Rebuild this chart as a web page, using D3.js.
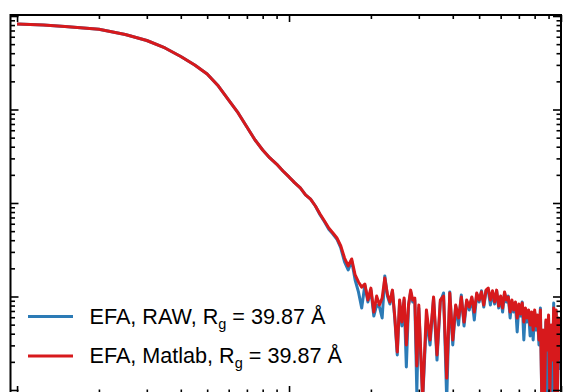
<!DOCTYPE html>
<html>
<head>
<meta charset="utf-8">
<script src="https://cdn.jsdelivr.net/npm/d3@7"></script>
<style>
  body { margin: 0; background: #fff; }
  svg { display: block; }
</style>
</head>
<body>
<div id="chart"></div>
<script>
// scattering vector q (1/Å)
var qValues = [
  0.010, 0.0125, 0.015, 0.020, 0.025, 0.030, 0.035, 0.040, 0.045, 0.050,
  0.055, 0.060, 0.065, 0.070, 0.075, 0.080, 0.085, 0.090, 0.095, 0.100,
  0.105, 0.110, 0.115, 0.120, 0.125, 0.130, 0.135, 0.140, 0.145, 0.150,
  0.155, 0.160, 0.165, 0.170, 0.175, 0.180, 0.185, 0.190, 0.195, 0.200,
  0.205, 0.210, 0.215, 0.220, 0.225, 0.230, 0.235, 0.240, 0.245, 0.250,
  0.255, 0.260, 0.265, 0.270, 0.275, 0.280, 0.285, 0.290, 0.295, 0.300,
  0.31, 0.32, 0.33, 0.34, 0.35, 0.36, 0.37, 0.38, 0.39, 0.40,
  0.41, 0.42, 0.43, 0.44, 0.45, 0.46, 0.47, 0.48, 0.49, 0.50,
  0.51, 0.52, 0.53, 0.54, 0.55, 0.56, 0.57, 0.58, 0.59, 0.60,
  0.61, 0.62, 0.63, 0.64, 0.65, 0.66, 0.67, 0.68, 0.69, 0.70,
  0.71, 0.72, 0.73, 0.74, 0.75, 0.76, 0.77, 0.78, 0.79, 0.80,
  0.81, 0.82, 0.83, 0.84, 0.85, 0.86, 0.87, 0.88, 0.89, 0.90,
  0.91, 0.92, 0.93, 0.94, 0.95, 0.96, 0.97, 0.98, 0.99
];

// EFA, RAW
var rawIntensity = [
  821, 801, 772, 721, 634, 547, 455, 369, 299, 240,
  178, 126, 91.8, 65.0, 47.2, 36.9, 30.3, 26.1, 22.0, 19.0,
  16.4, 14.5, 12.2, 11.0, 9.29, 7.50, 6.30, 5.25, 4.65, 4.10,
  3.30, 2.34, 1.92, 2.40, 1.50, 1.12, 0.753, 1.33, 0.873, 1.17,
  0.618, 0.811, 0.772, 0.589, 1.66, 1.01, 0.831, 1.15, 0.561, 0.237,
  0.873, 0.484, 0.918, 0.176, 0.791, 1.12, 0.873, 0.918, 0.0952, 0.753,
  0.0781, 0.561, 0.303, 0.964, 0.209, 0.873, 1.09, 0.0781, 1.12, 0.303,
  0.791, 0.496, 1.04, 0.484, 0.873, 0.717, 0.964, 0.561, 1.06, 0.873,
  1.15, 0.772, 1.15, 1.17, 0.811, 1.12, 0.831, 1.15, 0.753, 0.988,
  0.683, 1.09, 0.873, 1.01, 0.589, 0.873, 0.683, 0.831, 0.417, 0.791,
  0.618, 0.873, 0.343, 0.717, 0.534, 0.683, 0.378, 0.634, 0.343, 0.683,
  0.438, 0.589, 0.303, 0.753, 0.0781, 0.303, 0.0781, 0.534, 0.0781, 0.589,
  0.0821, 0.438, 0.0821, 0.852, 0.0781, 0.683, 0.0781, 0.561, 0.164
];

// EFA, Matlab
var matlabIntensity = [
  821, 801, 772, 721, 634, 547, 455, 369, 299, 240,
  178, 126, 91.8, 65.0, 47.2, 36.9, 30.3, 26.1, 22.0, 19.0,
  16.4, 14.5, 12.2, 11.0, 9.29, 7.63, 6.42, 5.40, 4.78, 4.22,
  3.47, 2.58, 2.12, 2.52, 1.70, 1.43, 1.26, 1.36, 0.918, 1.23,
  0.683, 1.01, 0.811, 0.964, 1.58, 1.06, 0.873, 1.17, 0.589, 0.255,
  0.918, 0.534, 0.964, 0.303, 0.811, 1.17, 0.918, 0.964, 0.181, 0.811,
  0.0821, 0.717, 0.343, 0.988, 0.237, 0.918, 1.01, 0.134, 1.09, 0.343,
  0.811, 0.589, 0.988, 0.534, 0.918, 0.772, 0.988, 0.683, 1.09, 0.918,
  1.12, 0.811, 1.17, 1.23, 0.918, 1.15, 0.873, 1.17, 0.791, 1.01,
  0.753, 1.12, 0.918, 0.988, 0.683, 0.918, 0.717, 0.873, 0.589, 0.831,
  0.650, 0.852, 0.534, 0.753, 0.589, 0.717, 0.496, 0.683, 0.438, 0.717,
  0.484, 0.634, 0.343, 0.717, 0.0821, 0.438, 0.0884, 0.561, 0.268, 0.634,
  0.0884, 0.496, 0.209, 0.753, 0.0884, 0.717, 0.0821, 0.589, 0.209
];

var seriesLabels = ["EFA, RAW, R", "EFA, Matlab, R"];
var rgText = " = 39.87 Å";
var xMajorTicks = [0.01, 0.1, 1];
var yMajorTicks = [0.1, 1, 10, 100, 1000];

var width = 563, height = 392;
var box = { left: 10.5, right: 561, top: 15, bottom: 394 };

var svg = d3.select("#chart").append("svg")
    .attr("width", width)
    .attr("height", height);

var x = d3.scaleLog().domain([0.00946, 1]).range([box.left, box.right]);
var y = d3.scaleLog().domain([0.0906, 1025]).range([box.bottom, box.top]);

function minorsOf(majors, scale) {
    var dom = scale.domain(), out = [];
    majors.forEach(function(m) {
        for (var k = 2; k <= 9; k++) {
            var v = m * k;
            if (v > dom[0] && v < dom[1]) out.push(v);
        }
    });
    return out;
}
var xMinor = minorsOf(xMajorTicks, x);
var yMinor = minorsOf(yMajorTicks, y);

// data lines
svg.append("clipPath").attr("id", "plot-clip")
  .append("rect")
    .attr("x", box.left).attr("y", box.top)
    .attr("width", box.right - box.left)
    .attr("height", box.bottom - box.top);

var line = d3.line()
    .x(d => x(d.q))
    .y(d => y(d.i));

var rawData = qValues.map((q, k) => ({ q: q, i: rawIntensity[k] }));
var matlabData = qValues.map((q, k) => ({ q: q, i: matlabIntensity[k] }));

var colors = ["#2c7bb6", "#d7191c"];

var plot = svg.append("g").attr("clip-path", "url(#plot-clip)");
plot.append("path").datum(rawData)
    .attr("d", line)
    .attr("fill", "none")
    .attr("stroke", colors[0])
    .attr("stroke-width", 3)
    .attr("stroke-linejoin", "round");
plot.append("path").datum(matlabData)
    .attr("d", line)
    .attr("fill", "none")
    .attr("stroke", colors[1])
    .attr("stroke-width", 3)
    .attr("stroke-linejoin", "round");

// axes, ticks drawn inward on all four sides
function addAxis(axisFn, scale, values, size, transform) {
    var g = svg.append("g")
        .attr("transform", transform)
        .call(axisFn(scale).tickValues(values).tickSizeInner(-size).tickSizeOuter(0).tickFormat(""));
    g.select(".domain").remove();
    g.selectAll(".tick line").attr("stroke", "#000").attr("stroke-width", 1.6);
}

addAxis(d3.axisBottom, x, xMajorTicks, 8, `translate(0,${box.bottom})`);
addAxis(d3.axisBottom, x, xMinor, 4.5, `translate(0,${box.bottom})`);
addAxis(d3.axisTop, x, xMajorTicks, 7, `translate(0,${box.top})`);
addAxis(d3.axisTop, x, xMinor, 4, `translate(0,${box.top})`);
addAxis(d3.axisLeft, y, yMajorTicks, 8, `translate(${box.left},0)`);
addAxis(d3.axisLeft, y, yMinor, 4.5, `translate(${box.left},0)`);
addAxis(d3.axisRight, y, yMajorTicks, 8, `translate(${box.right},0)`);
addAxis(d3.axisRight, y, yMinor, 4.5, `translate(${box.right},0)`);

svg.append("rect")
    .attr("x", box.left).attr("y", box.top)
    .attr("width", box.right - box.left)
    .attr("height", box.bottom - box.top)
    .attr("fill", "none")
    .attr("stroke", "#000")
    .attr("stroke-width", 2);

// legend
var legend = svg.append("g").attr("font-family", "'Liberation Sans', Arial, sans-serif");
seriesLabels.forEach(function(label, k) {
    var ly = 316.5 + k * 39.5;
    legend.append("line")
        .attr("x1", 28).attr("x2", 73)
        .attr("y1", ly).attr("y2", ly)
        .attr("stroke", colors[k])
        .attr("stroke-width", 3);
    var t = legend.append("text")
        .attr("x", 89.5)
        .attr("y", ly + 7)
        .attr("font-size", 21.6)
        .attr("fill", "#000");
    t.append("tspan").text(label);
    t.append("tspan").attr("font-size", 14.5).attr("dy", 5).text("g");
    t.append("tspan").attr("dy", -5).text(rgText);
});
</script>
</body>
</html>
